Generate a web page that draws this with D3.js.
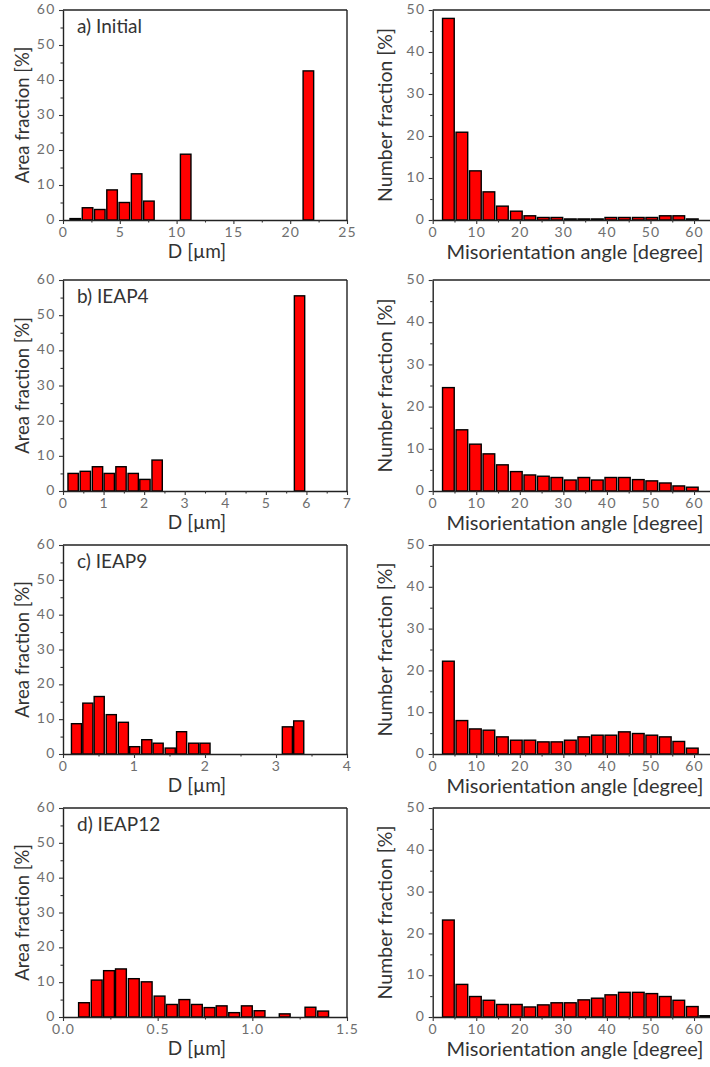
<!DOCTYPE html>
<html>
<head>
<meta charset="utf-8">
<script src="https://cdn.jsdelivr.net/npm/d3@7"></script>
<style>
  body { margin: 0; background: #fff; }
  svg { display: block; }
  text { font-family: Lato, "Open Sans", sans-serif; }
</style>
</head>
<body>
<svg id="chart" width="710" height="1067"></svg>
<script>
// ---------- DATA ----------
const panelLabels = ["a) Initial", "b) IEAP4", "c) IEAP9", "d) IEAP12"];

// grain size (D, µm) bin centres and area fractions [%]
const sizeA = [1.08, 2.16, 3.24, 4.32, 5.4, 6.48, 7.56, 10.8, 21.6];
const areaA = [0.4, 3.5, 3.0, 8.6, 5.0, 13.2, 5.4, 18.8, 42.6];
const sizeB = [0.25, 0.55, 0.85, 1.14, 1.43, 1.73, 2.02, 2.32, 5.83];
const areaB = [5.0, 5.6, 6.9, 5.0, 6.9, 5.0, 3.3, 8.8, 55.5];
const sizeC = [0.19, 0.35, 0.51, 0.68, 0.85, 1.01, 1.18, 1.34, 1.51, 1.67, 1.84, 2.0, 3.16, 3.32];
const areaC = [8.7, 14.6, 16.5, 11.3, 9.1, 2.1, 4.1, 3.1, 1.7, 6.4, 3.1, 3.1, 7.8, 9.5];
const sizeD = [0.111, 0.178, 0.243, 0.306, 0.374, 0.442, 0.51, 0.575, 0.641, 0.707, 0.774, 0.838, 0.904, 0.971, 1.038, 1.171, 1.307, 1.374];
const areaD = [4.1, 10.6, 13.3, 13.8, 11.0, 10.1, 6.0, 3.6, 5.0, 3.6, 2.7, 3.2, 1.25, 3.2, 1.8, 0.9, 2.8, 1.7];
const sizeBinWidth = [1.08, 0.296, 0.165, 0.0665];
const sizeMax = [25, 7, 4, 1.5];
const sizeTicks = [
  [0, 5, 10, 15, 20, 25],
  [0, 1, 2, 3, 4, 5, 6, 7],
  [0, 1, 2, 3, 4],
  [0.0, 0.5, 1.0, 1.5]
];

// misorientation angle bin centres [degree] and number fractions [%]
const angleBins = [3.6, 6.7, 9.8, 12.9, 16.0, 19.2, 22.3, 25.4, 28.5, 31.6, 34.7, 37.8, 40.9, 44.0, 47.2, 50.3, 53.4, 56.5, 59.6, 62.7];
const angleBinWidth = 3.12;
const numA = [48.0, 20.9, 11.7, 6.7, 3.3, 2.1, 1.0, 0.6, 0.6, 0.25, 0.25, 0.25, 0.6, 0.6, 0.6, 0.6, 1.0, 1.0, 0.25];
const numB = [24.5, 14.5, 11.1, 8.8, 6.2, 4.6, 3.8, 3.5, 3.2, 2.6, 3.2, 2.6, 3.2, 3.2, 2.7, 2.4, 1.9, 1.2, 0.9];
const numC = [22.2, 8.0, 6.0, 5.7, 4.1, 3.3, 3.3, 2.9, 2.9, 3.3, 4.1, 4.5, 4.5, 5.3, 4.9, 4.5, 4.1, 3.0, 1.4];
const numD = [23.2, 7.8, 4.9, 4.0, 3.0, 3.0, 2.4, 2.9, 3.4, 3.4, 4.1, 4.5, 5.3, 5.9, 5.9, 5.6, 4.9, 4.0, 2.5, 0.3];
const angleTicks = [0, 10, 20, 30, 40, 50, 60];
const areaTicks = [0, 10, 20, 30, 40, 50, 60];
const numberTicks = [0, 10, 20, 30, 40, 50];

const sizeX = [sizeA, sizeB, sizeC, sizeD];
const sizeY = [areaA, areaB, areaC, areaD];
const numY = [numA, numB, numC, numD];

// ---------- LAYOUT ----------
const svg = d3.select("#chart");
const rowTop = [10, 280, 545, 808];
const rowBottom = [220, 491, 754, 1017];
const leftX = [63, 347];
const rightX = [432.7, 715.8];
const angleMax = 65;

const tickColor = "#6e6e6e";
const titleColor = "#333";

function fmtSize(i) {
  return i === 3 ? d3.format(".1f") : d3.format("d");
}

function drawPanel(g, x, y, xs, ys, binW, xTicks, yTicks, xFmt) {
  const [x0, x1] = x.range();
  const [yb, yt] = y.range();
  // bars
  g.append("g").selectAll("rect")
    .data(xs.map((d, i) => ({ x: d, v: ys[i] })))
    .join("rect")
    .attr("x", d => x(d.x - binW * 0.43))
    .attr("width", d => x(d.x + binW * 0.43) - x(d.x - binW * 0.43))
    .attr("y", d => y(d.v))
    .attr("height", d => y(0) - y(d.v))
    .attr("fill", "#ff0000")
    .attr("stroke", "#000")
    .attr("stroke-width", 1.4);

  // frame (top/right)
  g.append("line").attr("x1", x0).attr("x2", x1).attr("y1", yt).attr("y2", yt)
    .attr("stroke", "#222").attr("stroke-width", 1.4);
  g.append("line").attr("x1", x1).attr("x2", x1).attr("y1", yt).attr("y2", yb)
    .attr("stroke", "#222").attr("stroke-width", 1.4);

  // x axis
  const xMinor = [];
  for (let k = 0; k < xTicks.length - 1; k++) xMinor.push((xTicks[k] + xTicks[k + 1]) / 2);
  const xa = g.append("g").attr("transform", `translate(0,${yb})`)
    .call(d3.axisBottom(x).tickValues(xTicks).tickFormat(xFmt).tickSize(4).tickSizeOuter(0).tickPadding(3.2));
  const xm = g.append("g").attr("transform", `translate(0,${yb})`)
    .call(d3.axisBottom(x).tickValues(xMinor).tickFormat("").tickSize(2.5).tickSizeOuter(0));
  xm.select(".domain").remove();

  // y axis
  const yMinor = [];
  for (let k = 0; k < yTicks.length - 1; k++) yMinor.push((yTicks[k] + yTicks[k + 1]) / 2);
  const ya = g.append("g").attr("transform", `translate(${x0},0)`)
    .call(d3.axisLeft(y).tickValues(yTicks).tickFormat(d3.format("d")).tickSize(4).tickSizeOuter(0).tickPadding(3.5));
  const ym = g.append("g").attr("transform", `translate(${x0},0)`)
    .call(d3.axisLeft(y).tickValues(yMinor).tickFormat("").tickSize(2.5).tickSizeOuter(0));
  ym.select(".domain").remove();

  [xa, ya, xm, ym].forEach(a => {
    a.selectAll(".domain").attr("stroke", "#222").attr("stroke-width", 1.4);
    a.selectAll(".tick line").attr("stroke", "#333").attr("stroke-width", 1.1);
    a.selectAll(".tick text").attr("fill", tickColor).style("font-size", "14px")
      .style("letter-spacing", "1.2px")
      .style("font-family", "Lato, 'Open Sans', sans-serif");
  });
  ya.selectAll(".tick text").attr("dy", "0.26em");
}

for (let r = 0; r < 4; r++) {
  // ----- left: grain size -----
  const gl = svg.append("g");
  const xl = d3.scaleLinear().domain([0, sizeMax[r]]).range(leftX);
  const yl = d3.scaleLinear().domain([0, 60]).range([rowBottom[r], rowTop[r]]);
  drawPanel(gl, xl, yl, sizeX[r], sizeY[r], sizeBinWidth[r], sizeTicks[r], areaTicks, fmtSize(r));

  gl.append("text").attr("x", 77).attr("y", rowTop[r] + 23)
    .attr("fill", titleColor).style("font-size", "19px").text(panelLabels[r]);
  gl.append("text").attr("x", 197).attr("y", rowBottom[r] + 38)
    .attr("text-anchor", "middle").attr("fill", titleColor).style("font-size", "19px").text("D [µm]");
  gl.append("text")
    .attr("transform", `translate(29,${(rowTop[r] + rowBottom[r]) / 2}) rotate(-90)`)
    .attr("text-anchor", "middle").attr("fill", titleColor).style("font-size", "18.5px")
    .text("Area fraction [%]");

  // ----- right: misorientation -----
  const gr = svg.append("g");
  const xr = d3.scaleLinear().domain([0, angleMax]).range(rightX);
  const yr = d3.scaleLinear().domain([0, 50]).range([rowBottom[r], rowTop[r]]);
  drawPanel(gr, xr, yr, angleBins.slice(0, numY[r].length), numY[r], angleBinWidth, angleTicks, numberTicks, d3.format("d"));

  gr.append("text").attr("x", 575).attr("y", rowBottom[r] + 39)
    .attr("text-anchor", "middle").attr("fill", titleColor).style("font-size", "20px")
    .text("Misorientation angle [degree]");
  gr.append("text")
    .attr("transform", `translate(392,${(rowTop[r] + rowBottom[r]) / 2}) rotate(-90)`)
    .attr("text-anchor", "middle").attr("fill", titleColor).style("font-size", "19.5px")
    .text("Number fraction [%]");
}
</script>
</body>
</html>
